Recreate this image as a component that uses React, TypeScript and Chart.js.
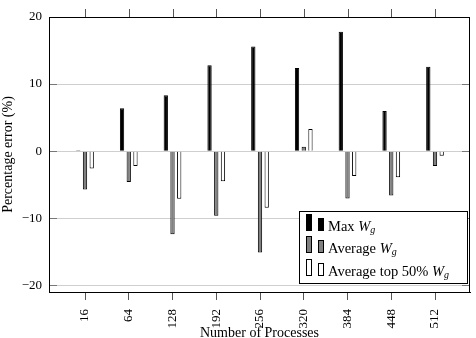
import React, { useEffect, useRef } from "react";
import { Chart, registerables } from "chart.js";

Chart.register(...registerables);

// Percentage error of W_g estimates per process count
const processes = ["16", "64", "128", "192", "256", "320", "384", "448", "512"];
const maxWg = [0.15, 6.4, 8.35, 12.8, 15.6, 12.4, 17.8, 6.0, 12.6];
const avgWg = [-5.7, -4.6, -12.4, -9.65, -15.1, 0.65, -7.05, -6.6, -2.2];
const avgTop50Wg = [-2.6, -2.2, -7.1, -4.5, -8.45, 3.3, -3.7, -3.9, -0.7];
const yTicks = [-20, -10, 0, 10, 20];

const seriesPrefixes = ["Max ", "Average ", "Average top 50% "];
const seriesFills = ["#000000", "#808080", "#ffffff"];

const SERIF = "'Liberation Serif', 'Times New Roman', serif";

const framePlugin = {
  id: "frame",
  afterDraw(chart: any) {
    const { ctx, chartArea } = chart;
    const { left, right, top, bottom } = chartArea;
    const xs = chart.scales.x;
    const ys = chart.scales.y;
    ctx.save();
    // inner y ticks on both sides
    ctx.strokeStyle = "#777777";
    ctx.lineWidth = 1;
    yTicks.forEach((v) => {
      const py = Math.round(ys.getPixelForValue(v)) + 0.5;
      ctx.beginPath();
      ctx.moveTo(left, py);
      ctx.lineTo(left + 8, py);
      ctx.moveTo(right - 8, py);
      ctx.lineTo(right, py);
      ctx.stroke();
    });
    // top x ticks (outside)
    ctx.strokeStyle = "#555555";
    processes.forEach((_, i) => {
      const px = Math.round(xs.getPixelForValue(i)) + 0.5;
      ctx.beginPath();
      ctx.moveTo(px, top);
      ctx.lineTo(px, top - 8);
      ctx.stroke();
    });
    // frame
    ctx.strokeStyle = "#000000";
    ctx.strokeRect(Math.round(left) + 0.5, Math.round(top) + 0.5, Math.round(right - left) - 1, Math.round(bottom - top));

    // legend
    const bx = 299.5, by = 211.5, bw = 168, bh = 72;
    ctx.fillStyle = "#ffffff";
    ctx.fillRect(bx, by, bw, bh);
    ctx.strokeStyle = "#000000";
    ctx.strokeRect(bx, by, bw, bh);
    const baselines = [230.5, 253, 275.5];
    seriesPrefixes.forEach((prefix, i) => {
      const base = Math.round(baselines[i]);
      ctx.fillStyle = seriesFills[i];
      ctx.strokeStyle = "#000000";
      ctx.fillRect(306.5, base - 16.5, 5, 16);
      ctx.strokeRect(306.5, base - 16.5, 5, 16);
      ctx.fillRect(318.5, base - 12.5, 5, 12);
      ctx.strokeRect(318.5, base - 12.5, 5, 12);
      ctx.fillStyle = "#000000";
      ctx.textBaseline = "alphabetic";
      ctx.textAlign = "left";
      let tx = 328;
      ctx.font = `14.5px ${SERIF}`;
      ctx.fillText(prefix, tx, base);
      tx += ctx.measureText(prefix).width;
      ctx.font = `italic 14.5px ${SERIF}`;
      ctx.fillText("W", tx, base);
      tx += ctx.measureText("W").width;
      ctx.font = `italic 10px ${SERIF}`;
      ctx.fillText("g", tx, base + 2);
    });
    ctx.restore();
  },
};

export default function App() {
  const canvasRef = useRef<HTMLCanvasElement | null>(null);

  useEffect(() => {
    const canvas = canvasRef.current;
    if (!canvas) return;
    const toPoints = (arr: number[]) => arr.map((y, i) => ({ x: i, y }));
    const chart = new Chart(canvas, {
      type: "bar",
      data: {
        datasets: [
          { label: "Max W_g", data: toPoints(maxWg), backgroundColor: seriesFills[0], borderColor: "#000", borderWidth: 1 },
          { label: "Average W_g", data: toPoints(avgWg), backgroundColor: seriesFills[1], borderColor: "#000", borderWidth: 1 },
          { label: "Average top 50% W_g", data: toPoints(avgTop50Wg), backgroundColor: seriesFills[2], borderColor: "#000", borderWidth: 1 },
        ] as any,
      },
      options: {
        animation: false,
        responsive: false,
        maintainAspectRatio: false,
        datasets: { bar: { categoryPercentage: 0.46, barPercentage: 0.64 } } as any,
        layout: { padding: { left: 0, top: 17, right: 6, bottom: 0 } },
        plugins: { legend: { display: false }, tooltip: { enabled: false } },
        scales: {
          x: {
            type: "linear",
            min: -0.823,
            max: 8.8,
            offset: false,
            grid: { offset: false, drawOnChartArea: false, drawTicks: true, tickLength: 8, color: "#555555" },
            border: { display: true, color: "#000000" },
            afterBuildTicks: (scale: any) => {
              scale.ticks = processes.map((_, i) => ({ value: i }));
            },
            afterFit: (scale: any) => {
              scale.height = 46;
            },
            ticks: {
              autoSkip: false,
              minRotation: 90,
              maxRotation: 90,
              padding: 9,
              color: "#000",
              font: { family: SERIF, size: 13 },
              callback: (v: any) => processes[v] ?? "",
            },
            title: {
              display: true,
              text: "Number of Processes",
              color: "#000",
              font: { family: SERIF, size: 14 },
              padding: { top: 0, bottom: -4 },
            },
          } as any,
          y: {
            min: -21,
            max: 20,
            grid: { drawTicks: false, color: "#cfcfcf" },
            border: { display: true, color: "#000000" },
            afterBuildTicks: (scale: any) => {
              scale.ticks = yTicks.map((v) => ({ value: v }));
            },
            afterFit: (scale: any) => {
              scale.width = 49;
            },
            ticks: {
              padding: 7,
              color: "#000",
              font: { family: SERIF, size: 13 },
              callback: (v: any) => String(v).replace("-", "\u2212"),
            },
            title: {
              display: true,
              text: "Percentage error (%)",
              color: "#000",
              font: { family: SERIF, size: 14 },
              padding: 0,
            },
          } as any,
        },
      },
      plugins: [framePlugin],
    });
    return () => chart.destroy();
  }, []);

  return (
    <div style={{ position: "fixed", left: 0, top: 0, width: 476, height: 338, background: "#fff" }}>
      <canvas ref={canvasRef} width={476} height={338} style={{ width: 476, height: 338, display: "block" }} />
    </div>
  );
}
